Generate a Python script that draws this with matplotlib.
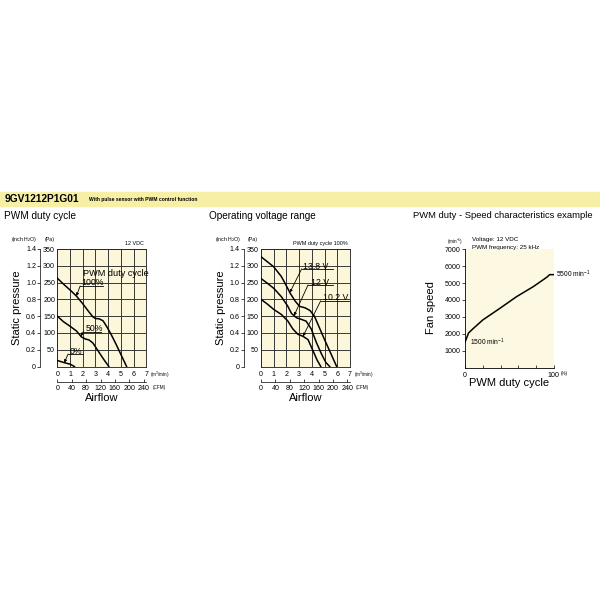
import numpy as np
import matplotlib
matplotlib.use('Agg')
import matplotlib.pyplot as plt
from matplotlib.patches import Rectangle

plt.rcParams['font.family'] = ['Liberation Sans', 'DejaVu Sans']
plt.rcParams['mathtext.default'] = 'regular'

# --- datos ---
# PWM duty cycle (caudal m3/min, presion Pa)
d100_q = [0, 0.5, 1, 1.5, 2, 2.5, 2.8, 3.0, 3.3, 3.6, 3.9, 4.2, 4.6, 5.0, 5.45]
d100_p = [263, 245, 228, 210, 187, 162, 148, 143, 142, 136, 118, 98, 68, 36, 0]
d50_q = [0, 0.5, 1, 1.5, 1.9, 2.2, 2.5, 2.8, 3.2, 3.6, 4.05]
d50_p = [150, 133, 120, 106, 88, 82, 79, 70, 47, 24, 0]
d0_q = [0, 0.5, 1.0, 1.35]
d0_p = [18, 12, 7, 0]

# Operating voltage range
v138_q = [0, 0.5, 1, 1.6, 2.0, 2.3, 2.7, 3.05, 3.45, 3.85, 4.2, 4.6, 5.0, 5.5, 5.95]
v138_p = [327, 312, 297, 268, 240, 218, 194, 179, 175, 167, 150, 115, 80, 38, 0]
v120_q = [0, 0.5, 1, 1.6, 2.1, 2.4, 2.8, 3.2, 3.55, 3.95, 4.35, 4.75, 5.1, 5.4]
v120_p = [262, 248, 233, 208, 180, 158, 145, 140, 135, 112, 72, 38, 12, 0]
v102_q = [0, 0.5, 1, 1.6, 2.1, 2.5, 2.9, 3.3, 3.7, 4.1, 4.4, 4.7]
v102_p = [200, 186, 170, 155, 136, 112, 96, 90, 80, 46, 20, 0]

# PWM duty - velocidad
vel_duty = [0, 4, 9, 20, 39, 58, 77, 92, 95, 100]
vel_rpm = [1500, 2050, 2300, 2820, 3500, 4200, 4800, 5350, 5500, 5500]

pa_ticks = [50, 100, 150, 200, 250, 300, 350]
inch_ticks = [0, 0.2, 0.4, 0.6, 0.8, 1.0, 1.2, 1.4]
inch_labels = ['0', '0.2', '0.4', '0.6', '0.8', '1.0', '1.2', '1.4']
m3_ticks = [0, 1, 2, 3, 4, 5, 6, 7]
cfm_ticks = [0, 40, 80, 120, 160, 200, 240]
rpm_ticks = [1000, 2000, 3000, 4000, 5000, 6000, 7000]

BANDA = '#f7efa6'
FONDO = '#fcf6da'
TICK = 5.1
LABEL = 8

fig = plt.figure(figsize=(6, 6), dpi=100)


def caja(x0, y0, x1, y1):
    """Rectangulo en pixeles (origen arriba-izquierda) -> coordenadas de figura."""
    return [x0 / 600, 1 - y1 / 600, (x1 - x0) / 600, (y1 - y0) / 600]


def texto(x, y, s, **kw):
    kw.setdefault('va', 'center')
    return fig.text(x / 600, 1 - y / 600, s, **kw)


# --- banda de titulo ---
fig.add_artist(Rectangle((0, 1 - 206 / 600), 1, 14 / 600, transform=fig.transFigure,
                         color=BANDA, zorder=0))
texto(5, 199, '9GV1212P1G01', fontsize=7.4, fontweight='bold')
texto(89, 199.5, 'With pulse sensor with PWM control function', fontsize=3.6, fontweight='bold')
texto(4, 216, 'PWM duty cycle', fontsize=7.2)
texto(209, 216, 'Operating voltage range', fontsize=7.2)
texto(413, 216, 'PWM duty - Speed characteristics example', fontsize=6.75)


def etiqueta(ax, s, txy, linea, punta, curva):
    """Texto subrayado con linea guia y flecha hasta la curva."""
    ax.text(txy[0], txy[1], s, fontsize=6.3, ha='left', va='center')
    ax.plot(linea, [punta[1]] * 2, color='black', lw=0.6)
    q, p = curva
    yp = np.interp(punta[2], q, p)
    ax.annotate('', xy=(punta[2], yp), xytext=(linea[0], punta[1]),
                arrowprops=dict(arrowstyle='-|>', lw=0.6, color='black',
                                mutation_scale=4, shrinkA=0, shrinkB=0))


def grafico_presion(x0, curvas, nota):
    ax = fig.add_axes(caja(x0, 249, x0 + 89, 366.5))
    ax.set_facecolor(FONDO)
    ax.set_xlim(0, 7)
    ax.set_ylim(0, 350)
    ax.set_xticks(m3_ticks)
    ax.set_yticks(pa_ticks)
    ax.grid(True, color='#2a2a2a', lw=0.65)
    for s in ax.spines.values():
        s.set_linewidth(0.65)
        s.set_color('#2a2a2a')
    ax.tick_params(length=0, labelsize=TICK, pad=1.5)
    ax.tick_params(axis='x', pad=3.2)
    for q, p in curvas:
        ax.plot(q, p, color='black', lw=1.1, zorder=3)

    # eje en pulgadas de agua
    sec = ax.secondary_yaxis(-0.19, functions=(lambda p: p / 250, lambda i: i * 250))
    sec.set_yticks(inch_ticks, inch_labels)
    sec.tick_params(length=2, width=0.5, labelsize=TICK, pad=1)
    sec.spines['left'].set_linewidth(0.5)

    # eje en CFM
    sec2 = ax.secondary_xaxis(-0.128, functions=(lambda q: q * 35.31, lambda c: c / 35.31))
    sec2.set_xticks(cfm_ticks)
    sec2.tick_params(direction='in', length=2, width=0.5, labelsize=TICK, pad=2.3)
    sec2.spines['bottom'].set_linewidth(0.5)

    texto(x0 - 33, 240, '(inch H$_2$O)', fontsize=3.8, ha='center')
    texto(x0 - 8, 240, '(Pa)', fontsize=3.8, ha='center')
    texto(x0 + 93, 375, '(m$^3$/min)', fontsize=3.3)
    texto(x0 + 95, 388, '(CFM)', fontsize=3.3)
    texto(x0 + 87, 243.5, nota, fontsize=3.9, ha='right')
    texto(x0 - 40, 308, 'Static pressure', fontsize=LABEL, rotation=90, ha='center')
    texto(x0 + 44.5, 398, 'Airflow', fontsize=LABEL, ha='center')
    return ax


# --- grafico 1: PWM duty cycle ---
ax1 = grafico_presion(57.3, [(d100_q, d100_p), (d50_q, d50_p), (d0_q, d0_p)], '12 VDC')
ax1.text(2.0, 278, 'PWM duty cycle', fontsize=6.6, va='center')
etiqueta(ax1, '100%', (1.85, 249), (1.8, 3.6), (0, 240, 1.5), (d100_q, d100_p))
etiqueta(ax1, '50%', (2.2, 114), (2.05, 3.4), (0, 104, 1.85), (d50_q, d50_p))
etiqueta(ax1, '0%', (1.0, 46), (0.85, 2.0), (0, 37, 0.55), (d0_q, d0_p))

# --- grafico 2: Operating voltage range ---
ax2 = grafico_presion(261, [(v138_q, v138_p), (v120_q, v120_p), (v102_q, v102_p)],
                      'PWM duty cycle 100%')
etiqueta(ax2, '13.8 V', (3.3, 299), (3.2, 5.65), (0, 291, 2.27), (v138_q, v138_p))
etiqueta(ax2, '12 V', (3.95, 251), (3.7, 5.65), (0, 243, 2.6), (v120_q, v120_p))
etiqueta(ax2, '10.2 V', (4.9, 205), (4.7, 6.9), (0, 196, 3.3), (v102_q, v102_p))

# --- grafico 3: PWM duty - velocidad ---
ax3 = fig.add_axes(caja(465, 249.3, 554, 367.6))
ax3.set_facecolor('#fdf8e2')
ax3.set_xlim(0, 100)
ax3.set_ylim(0, 7000)
ax3.plot(vel_duty, vel_rpm, color='black', lw=1.1)
ax3.spines['top'].set_visible(False)
ax3.spines['right'].set_visible(False)
for s in ('left', 'bottom'):
    ax3.spines[s].set_linewidth(0.6)
ax3.set_yticks(rpm_ticks)
ax3.tick_params(axis='y', length=2, width=0.5, labelsize=TICK, pad=1)
ax3.set_xticks([0, 20, 40, 60, 80, 100], ['0', '', '', '', '', '100'])
ax3.tick_params(axis='x', direction='in', length=2, width=0.5, labelsize=TICK, pad=3)
ax3.text(5.5, 1500, '1500 min$^{-1}$', fontsize=4.8, va='center')
ax3.text(102, 5500, '5500 min$^{-1}$', fontsize=4.8, va='center', clip_on=False)
texto(455, 242, '(min$^{-1}$)', fontsize=3.3, ha='center')
texto(472, 240, 'Voltage: 12 VDC', fontsize=4.5)
texto(472, 247, 'PWM frequency: 25 kHz', fontsize=4.5)
texto(561, 373.5, '(%)', fontsize=3.3)
texto(431, 308, 'Fan speed', fontsize=LABEL, rotation=90, ha='center')
texto(509.5, 383.5, 'PWM duty cycle', fontsize=LABEL, ha='center')

fig.savefig('out.png', dpi=100, facecolor='white')
